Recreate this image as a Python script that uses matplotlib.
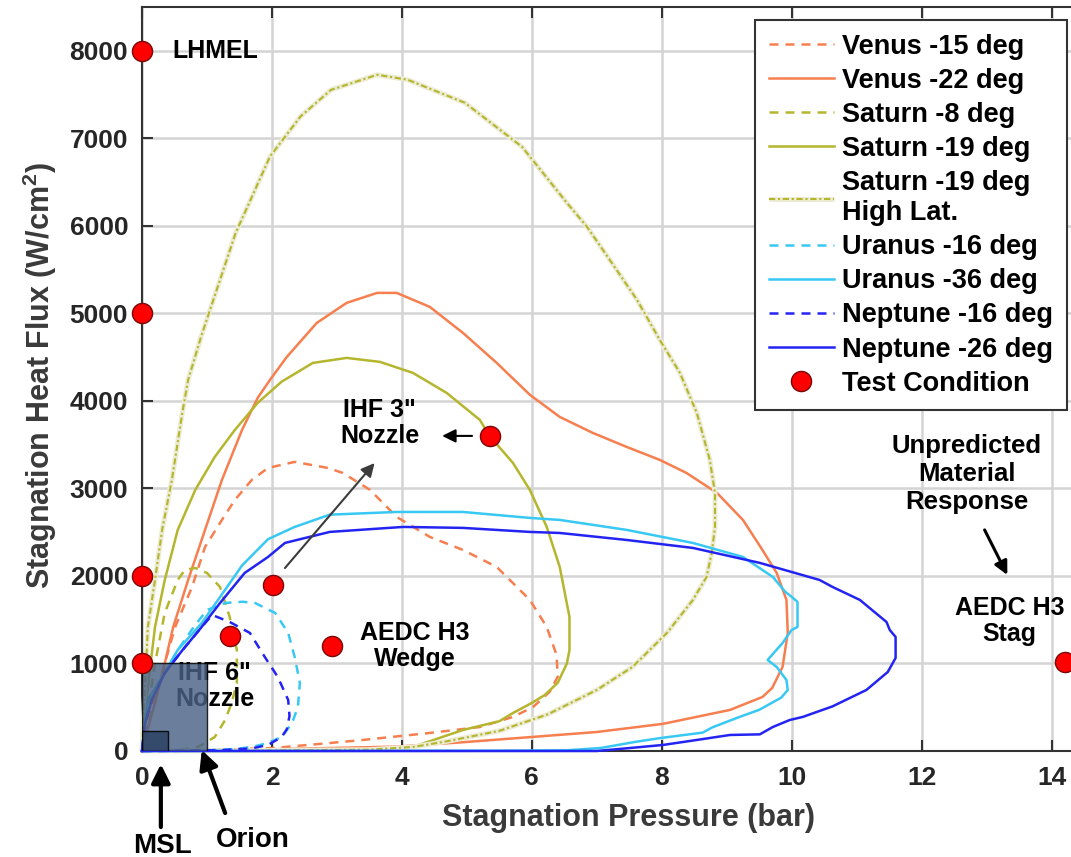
import matplotlib
matplotlib.use("Agg")
import matplotlib.pyplot as plt
from matplotlib.patches import Rectangle
import matplotlib.patheffects as pe

plt.rcParams['font.family'] = ['Liberation Sans', 'DejaVu Sans']
plt.rcParams['font.weight'] = 'bold'
plt.rcParams['mathtext.fontset'] = 'custom'
plt.rcParams['mathtext.bf'] = 'Liberation Sans:bold'
plt.rcParams['mathtext.rm'] = 'Liberation Sans:bold'

# ---------------- data (pressure in bar, heat flux in W/cm^2) ----------------
venus15_p = [0, 0.05, 0.2, 0.35, 0.51, 0.77, 0.97, 1.23, 1.43, 1.69, 1.94, 2.35, 2.86, 3.09, 3.51, 3.92,
             4.43, 4.94, 5.46, 5.97, 6.23, 6.38, 6.40, 6.28, 6.02, 5.71, 5.2, 4.43, 3.4, 2.89, 2.02, 1.0, 0.3, 0]
venus15_q = [0, 200, 600, 1000, 1417, 1874, 2331, 2640, 2869, 3097, 3234, 3303, 3234, 3177, 2983, 2674,
             2446, 2297, 2103, 1726, 1417, 1100, 850, 680, 503, 389, 274, 206, 126, 91, 34, 10, 2, 0]

venus22_p = [0, 0.05, 0.2, 0.35, 0.48, 0.71, 0.97, 1.23, 1.54, 1.78, 1.97, 2.23, 2.69, 3.15, 3.62, 3.92,
             4.43, 4.94, 5.46, 5.97, 6.43, 6.94, 7.46, 7.97, 8.38, 8.85, 9.25, 9.55, 9.77, 9.92, 9.94, 9.86,
             9.7, 9.55, 9.05, 8.02, 7.0, 6.0, 4.94, 3.92, 2.89, 2.0, 1.0, 0.3, 0]
venus22_q = [0, 150, 550, 1000, 1417, 1954, 2526, 3097, 3669, 4034, 4240, 4503, 4891, 5120, 5234, 5234,
             5074, 4777, 4434, 4070, 3817, 3634, 3474, 3326, 3177, 2949, 2640, 2297, 2034, 1726, 1349, 960,
             720, 617, 469, 310, 217, 160, 100, 50, 34, 20, 8, 2, 0]

saturn8_p = [0, 0.08, 0.2, 0.35, 0.55, 0.66, 0.82, 1.0, 1.2, 1.35, 1.46, 1.46, 1.38, 1.28, 1.12, 0.92, 0.82,
             0.5, 0.2, 0]
saturn8_q = [0, 400, 1000, 1577, 1954, 2069, 2091, 2034, 1874, 1531, 1154, 777, 550, 354, 160, 69, 34,
             12, 3, 0]

saturn19_p = [0, 0.03, 0.1, 0.2, 0.35, 0.55, 0.82, 1.12, 1.43, 1.78, 2.15, 2.63, 3.15, 3.66, 4.17, 4.69,
              5.2, 5.35, 5.71, 5.97, 6.23, 6.43, 6.58, 6.58, 6.54, 6.4, 6.2, 6.0, 5.71, 5.5, 4.94, 4.17,
              3.92, 2.5, 1.0, 0]
saturn19_q = [0, 300, 800, 1417, 1954, 2526, 2983, 3360, 3669, 3977, 4220, 4434, 4491, 4446, 4320, 4091,
              3783, 3600, 3291, 2983, 2560, 2103, 1531, 1154, 1000, 780, 640, 549, 434, 340, 240, 46,
              11, 5, 2, 0]

saturnHL_p = [0, 0.03, 0.09, 0.2, 0.31, 0.46, 0.62, 0.71, 0.91, 1.44, 1.97, 2.44, 2.91, 3.62, 4.09, 4.97,
              5.85, 6.54, 6.85, 7.2, 7.62, 7.97, 8.28, 8.54, 8.74, 8.82, 8.82, 8.77, 8.69, 8.48, 8.08, 7.55,
              7.0, 6.25, 5.5, 4.69, 4.17, 3.5, 1.5, 0]
saturnHL_q = [0, 500, 1417, 1954, 2526, 3097, 3863, 4240, 4735, 5916, 6792, 7250, 7554, 7726, 7669, 7406,
              6903, 6263, 5989, 5611, 5154, 4697, 4320, 3863, 3326, 2949, 2560, 2263, 1989, 1726, 1349, 960,
              697, 420, 230, 110, 46, 15, 3, 0]

uranus16_p = [0, 0.03, 0.09, 0.31, 0.55, 0.8, 1.0, 1.28, 1.55, 1.74, 2.05, 2.25, 2.35, 2.43, 2.40, 2.31,
              2.15, 1.94, 1.69, 1.43, 1.0, 0.4, 0]
uranus16_q = [0, 250, 583, 846, 1154, 1420, 1611, 1691, 1705, 1691, 1577, 1349, 1074, 777, 503, 320,
              160, 91, 46, 23, 8, 2, 0]

uranus36_p = [0, 0.03, 0.09, 0.31, 0.55, 0.92, 1.17, 1.54, 1.94, 2.35, 2.89, 3.92, 4.94, 5.97, 6.43, 7.46,
              8.48, 9.25, 9.71, 9.9, 10.02, 10.09, 10.09, 10.0, 9.86, 9.63, 9.77, 9.92, 9.94, 9.84, 9.5,
              9.2, 8.78, 8.63, 8.35, 8.0, 7.6, 7.07, 6.54, 5.5, 3.0, 0]
uranus36_q = [0, 250, 583, 846, 1154, 1463, 1726, 2120, 2420, 2560, 2700, 2731, 2731, 2663, 2640, 2526,
              2377, 2217, 1989, 1820, 1749, 1703, 1417, 1383, 1234, 1040, 960, 811, 697, 610, 470,
              390, 270, 210, 183, 150, 105, 35, 8, 3, 1, 0]

neptune16_p = [0, 0.02, 0.05, 0.15, 0.35, 0.62, 0.9, 1.08, 1.35, 1.66, 1.89, 2.09, 2.25, 2.27, 2.23, 2.15,
               1.94, 1.69, 1.2, 0.5, 0]
neptune16_q = [0, 150, 320, 583, 891, 1150, 1400, 1554, 1474, 1349, 1074, 846, 583, 400, 250, 160,
               69, 30, 8, 2, 0]

neptune26_p = [0, 0.02, 0.05, 0.15, 0.35, 0.62, 0.9, 1.2, 1.58, 1.94, 2.2, 2.89, 4.02, 4.94, 5.97, 6.43,
               7.46, 8.48, 9.51, 10.43, 10.63, 11.05, 11.46, 11.51, 11.6, 11.6, 11.48, 11.15, 10.63, 10.17,
               9.97, 9.71, 9.51, 9.05, 8.54, 8.02, 7.51, 7.0, 5.0, 0]
neptune26_q = [0, 150, 320, 583, 891, 1150, 1400, 1690, 2034, 2217, 2377, 2503, 2560, 2549, 2503, 2491,
               2411, 2320, 2149, 1954, 1874, 1726, 1474, 1383, 1303, 1063, 903, 697, 510, 389,
               354, 274, 190, 183, 126, 69, 34, 0, 0, 0]

test_p = [0, 0, 0, 0, 1.35, 2.02, 2.92, 5.35, 14.2]
test_q = [8000, 5000, 2000, 1000, 1310, 1900, 1200, 3600, 1020]

x_ticks = [0, 2, 4, 6, 8, 10, 12, 14]
y_ticks = [0, 1000, 2000, 3000, 4000, 5000, 6000, 7000, 8000]

# ---------------- styles ----------------
c_venus = '#f77f4f'
c_saturn = '#b5b52e'
c_uranus = '#38c8f4'
c_neptune = '#2424f2'

fig = plt.figure(figsize=(10.71, 8.57), dpi=100)
ax = fig.add_axes([0.1326, 0.1237, 0.8674, 0.8681])
ax.set_xlim(0, 14.3)
ax.set_ylim(0, 8500)
ax.set_axisbelow(True)
ax.grid(True, color='#d4d4d4', lw=1.8)

lw = 1.8
dash = (3.6, 2.8)
series = [
    (venus15_p, venus15_q, c_venus, dash, 'Venus -15 deg'),
    (venus22_p, venus22_q, c_venus, None, 'Venus -22 deg'),
    (saturn8_p, saturn8_q, c_saturn, dash, 'Saturn -8 deg'),
    (saturn19_p, saturn19_q, c_saturn, None, 'Saturn -19 deg'),
    (saturnHL_p, saturnHL_q, c_saturn, 'hl', 'Saturn -19 deg\nHigh Lat.'),
    (uranus16_p, uranus16_q, c_uranus, dash, 'Uranus -16 deg'),
    (uranus36_p, uranus36_q, c_uranus, None, 'Uranus -36 deg'),
    (neptune16_p, neptune16_q, c_neptune, dash, 'Neptune -16 deg'),
    (neptune26_p, neptune26_q, c_neptune, None, 'Neptune -26 deg'),
]

handles = []
for p, q, col, ls, lab in series:
    if ls == 'hl':
        line, = ax.plot(p, q, color=col, lw=1.5, dashes=(3, 1.3, 1, 1.3), zorder=3, clip_on=False,
                        label=lab,
                        path_effects=[pe.Stroke(linewidth=3.6, foreground='#ececd4',
                                                dashes={'dash_offset': 0, 'dash_list': None}),
                                      pe.Normal()])
    elif ls is None:
        line, = ax.plot(p, q, color=col, lw=lw, zorder=3, clip_on=False, label=lab)
    else:
        line, = ax.plot(p, q, color=col, lw=lw, dashes=ls, zorder=3, clip_on=False, label=lab)
    handles.append(line)

pts, = ax.plot(test_p, test_q, 'o', ms=14.5, mfc='#ff0000', mec='#7a0a0a', mew=1.0,
               zorder=8, clip_on=False, label='Test Condition')
handles.append(pts)

# facility boxes (drawn over the curves)
ax.text(1.12, 743, 'IHF 6"\nNozzle', ha='center', va='center', fontsize=18, fontweight='bold',
        color='black', zorder=3.5, linespacing=1.1)
ax.add_patch(Rectangle((0, 0), 1.0, 1000, facecolor='#4a6286', edgecolor='black', lw=1.0,
                       alpha=0.82, zorder=4))
ax.add_patch(Rectangle((0, 0), 0.4, 230, facecolor='#2c4264', edgecolor='black', lw=1.0,
                       alpha=0.85, zorder=4.5))

# annotations
txt_kw = dict(fontsize=18, fontweight='bold', color='black', ha='center', va='center')
ax.text(0.46, 8000, 'LHMEL', fontsize=18, fontweight='bold', ha='left', va='center')
ax.text(3.66, 3750, 'IHF 3"\nNozzle', linespacing=1.1, **txt_kw)
ax.text(4.2, 1200, 'AEDC H3\nWedge', linespacing=1.1, **txt_kw)
ax.text(13.35, 1486, 'AEDC H3\nStag', linespacing=1.1, **txt_kw)
ax.text(12.7, 3166, 'Unpredicted\nMaterial\nResponse', fontsize=18.5, fontweight='bold',
        ha='center', va='center', linespacing=1.2)

ax.annotate('', xy=(4.62, 3600), xytext=(5.08, 3600),
            arrowprops=dict(arrowstyle='-|>', color='black', lw=1.5, mutation_scale=20,
                            shrinkA=0, shrinkB=0), zorder=6)
ax.annotate('', xy=(3.58, 3290), xytext=(2.2, 2090),
            arrowprops=dict(arrowstyle='-|>', color='#3c3c3c', lw=1.5, mutation_scale=20,
                            shrinkA=0, shrinkB=0), zorder=6)
ax.annotate('', xy=(13.32, 2011), xytext=(12.97, 2526),
            arrowprops=dict(arrowstyle='-|>', color='black', lw=2.2, mutation_scale=20,
                            shrinkA=0, shrinkB=0), zorder=6)
ax.annotate('', xy=(0.29, -150), xytext=(0.29, -869), annotation_clip=False,
            arrowprops=dict(arrowstyle='-|>', color='black', lw=3, mutation_scale=28,
                            shrinkA=0, shrinkB=0), zorder=6)
ax.annotate('', xy=(0.92, 11), xytext=(1.28, -709), annotation_clip=False,
            arrowprops=dict(arrowstyle='-|>', color='black', lw=3, mutation_scale=28,
                            shrinkA=0, shrinkB=0), zorder=6)
ax.text(0.31, -1080, 'MSL', fontsize=20, fontweight='bold', ha='center', va='center', clip_on=False)
ax.text(1.71, -1020, 'Orion', fontsize=20, fontweight='bold', ha='center', va='center', clip_on=False)

# axes styling
ax.set_xticks(x_ticks)
ax.set_yticks(y_ticks)
ax.tick_params(direction='in', length=8, width=1.5, top=True, right=False, labelsize=19,
               labelcolor='#262626', color='#333333')
ax.tick_params(axis='x', pad=11)
ax.tick_params(axis='y', pad=10)
for lab in ax.get_xticklabels() + ax.get_yticklabels():
    lab.set_fontweight('bold')
for side in ['left', 'bottom', 'top']:
    ax.spines[side].set_linewidth(1.5)
    ax.spines[side].set_color('#333333')
    ax.spines[side].set_zorder(2.5)
ax.spines['right'].set_visible(False)

ax.set_xlabel('Stagnation Pressure (bar)', fontsize=22, fontweight='bold', color='#3a3a3a')
ax.set_ylabel(r'Stagnation Heat Flux (W/cm$^{\mathbf{2}}$)', fontsize=22, fontweight='bold',
              color='#3a3a3a')
ax.xaxis.label.set_va('center')
ax.yaxis.label.set_va('center')
ax.xaxis.set_label_coords(0.524, -0.09)
ax.yaxis.set_label_coords(-0.11, 0.505)

leg = ax.legend(handles=handles, loc='upper right', bbox_to_anchor=(0.9957, 0.9825),
                borderaxespad=0, handlelength=2.4, handletextpad=0.33,
                labelspacing=0.3, borderpad=0.5, frameon=True, fancybox=False,
                prop={'weight': 'bold', 'size': 19.5})
leg.get_frame().set_edgecolor('#333333')
leg.get_frame().set_linewidth(1.5)
leg.get_frame().set_alpha(1.0)
leg.set_zorder(10)

fig.savefig('out.png', dpi=100)
